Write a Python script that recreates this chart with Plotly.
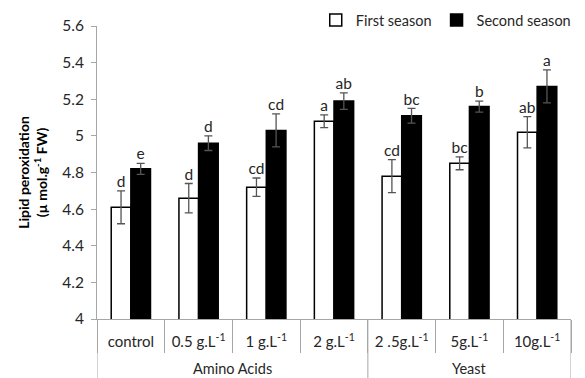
import plotly.graph_objects as go

groups = ["Amino Acids"] * 4 + ["Yeast"] * 3
treatments = ["control", "0.5 g.L<sup>-1</sup>", "1 g.L<sup>-1</sup>", "2 g.L<sup>-1</sup>",
              "2 .5g.L<sup>-1</sup>", "5g.L<sup>-1</sup>", "10g.L<sup>-1</sup>"]
first_season = [4.61, 4.66, 4.72, 5.08, 4.78, 4.85, 5.02]
first_err = [0.09, 0.08, 0.05, 0.035, 0.09, 0.035, 0.085]
second_season = [4.82, 4.96, 5.03, 5.19, 5.11, 5.16, 5.27]
second_err = [0.03, 0.04, 0.09, 0.045, 0.04, 0.03, 0.09]
first_letters = ["d", "d", "cd", "a", "cd", "bc", "ab"]
second_letters = ["e", "d", "cd", "ab", "bc", "b", "a"]
y_ticks = [4, 4.2, 4.4, 4.6, 4.8, 5, 5.2, 5.4, 5.6]

FONT = "Lato"
GREY = "#a6a6a6"
TXT = "#262626"

fig = go.Figure()
fig.add_trace(go.Bar(
    x=treatments, y=first_season, name="First season",
    marker=dict(color="white", line=dict(color="black", width=1.5)),
    error_y=dict(type="data", array=first_err, color="#555555", thickness=1.3, width=4),
))
fig.add_trace(go.Bar(
    x=treatments, y=second_season, name="Second season",
    marker=dict(color="black", line=dict(color="black", width=1.5)),
    error_y=dict(type="data", array=second_err, color="#555555", thickness=1.3, width=4),
))
for vals, errs, letters in [(first_season, first_err, first_letters),
                            (second_season, second_err, second_letters)]:
    fig.add_trace(go.Scatter(
        x=treatments, y=[v + e for v, e in zip(vals, errs)], text=letters,
        mode="text", textposition="top center",
        textfont=dict(family=FONT, size=15.5, color=TXT),
        showlegend=False, hoverinfo="skip", cliponaxis=False,
    ))

# group labels and group dividers (derived from the group list)
unique_groups = list(dict.fromkeys(groups))
boundaries = [-0.5]
for g in unique_groups:
    idx = [i for i, gg in enumerate(groups) if gg == g]
    fig.add_annotation(x=sum(idx) / len(idx), xref="x", y=-0.168, yref="paper",
                       text=g, showarrow=False, yanchor="middle",
                       font=dict(family=FONT, size=14.5, color=TXT))
    boundaries.append(max(idx) + 0.5)
for b in boundaries:
    fig.add_shape(type="line", xref="x", yref="paper", x0=b, x1=b, y0=0, y1=-0.22,
                  line=dict(color=GREY, width=1))

fig.update_layout(
    width=577, height=370,
    margin=dict(l=89, r=14, t=18, b=59, autoexpand=False),
    paper_bgcolor="white", plot_bgcolor="white",
    barmode="group", bargap=0.42, bargroupgap=0,
    scattermode="group",
    font=dict(family=FONT, size=15, color=TXT),
    showlegend=True,
    legend=dict(orientation="h", x=1.01, xanchor="right", y=1.02, yanchor="middle",
                font=dict(family=FONT, size=14.5, color=TXT), bgcolor="rgba(0,0,0,0)",
                itemwidth=30, traceorder="normal"),
    yaxis=dict(range=[4, 5.6], tickvals=y_ticks, ticktext=[f"{t:g}" for t in y_ticks],
               showgrid=False, zeroline=False, showline=True, linecolor=GREY, linewidth=1,
               ticks="outside", ticklen=5, tickcolor=GREY, automargin=False,
               ticklabelstandoff=4,
               tickfont=dict(family=FONT, size=15.5, color=TXT),
               title=dict(text="<b>Lipid peroxidation<br>(µ mol.g<sup>-1</sup> FW)</b>",
                          font=dict(family=FONT, size=14, color="black"), standoff=11)),
    xaxis=dict(type="category", showgrid=False, showline=True, linecolor=GREY, linewidth=1,
               automargin=False, range=[-0.5, len(treatments) - 0.5],
               ticks="outside", tickson="boundaries", ticklen=33, tickcolor=GREY,
               ticklabelstandoff=9,
               tickfont=dict(family=FONT, size=15, color=TXT)),
)

fig.write_html("out.html")
